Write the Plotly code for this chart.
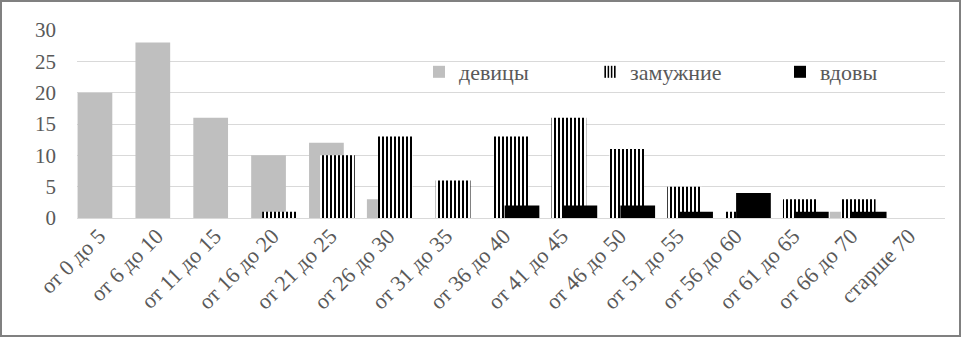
import plotly.graph_objects as go

categories = ["от 0 до 5", "от 6 до 10", "от 11 до 15", "от 16 до 20", "от 21 до 25",
              "от 26 до 30", "от 31 до 35", "от 36 до 40", "от 41 до 45", "от 46 до 50",
              "от 51 до 55", "от 56 до 60", "от 61 до 65", "от 66 до 70", "старше 70"]
devitsy = [20, 28, 16, 10, 12, 3, 0, 0, 0, 0, 0, 0, 0, 1, 0]
zamuzhnie = [0, 0, 0, 1, 10, 13, 6, 13, 16, 11, 5, 1, 3, 3, 0]
vdovy = [0, 0, 0, 0, 0, 0, 0, 2, 2, 2, 1, 4, 1, 1, 0]
y_ticks = [0, 5, 10, 15, 20, 25, 30]

W, H = 962, 338
ML, MR, MT, MB = 77, 17, 30, 120
PW, PH = W - ML - MR, H - MT - MB

FONT = "Liberation Serif"
TXT = "#595959"
BW = 0.6

fig = go.Figure()
fig.add_trace(go.Bar(
    x=categories, y=devitsy, name="девицы", width=BW, offset=-0.49,
    marker=dict(color="#bfbfbf", line=dict(width=0)), legend="legend"))
fig.add_trace(go.Bar(
    x=categories, y=zamuzhnie, name="замужние", width=BW, offset=-0.30,
    marker=dict(color="white", line=dict(width=0),
                pattern=dict(shape="|", fgcolor="black", bgcolor="white",
                             size=4, solidity=0.5, fillmode="replace")),
    legend="legend2"))
fig.add_trace(go.Bar(
    x=categories, y=vdovy, name="вдовы", width=BW, offset=-0.11,
    marker=dict(color="black", line=dict(width=0)), legend="legend3"))

def px2x(p):
    return (p - ML) / PW

leg_common = dict(orientation="h", yanchor="middle", xanchor="left",
                  font=dict(family=FONT, size=22, color=TXT),
                  bgcolor="rgba(0,0,0,0)", borderwidth=0)
ly = (MT + PH - 72) / PH

fig.update_layout(
    width=W, height=H,
    margin=dict(l=ML, r=MR, t=MT, b=MB),
    font=dict(family=FONT, size=21, color=TXT),
    paper_bgcolor="white", plot_bgcolor="white",
    barmode="overlay",
    showlegend=True,
    legend=dict(x=px2x(419), y=ly, **leg_common),
    legend2=dict(x=px2x(590), y=ly, **leg_common),
    legend3=dict(x=px2x(780), y=ly, **leg_common),
    xaxis=dict(type="category", range=[-0.5, len(categories) - 0.5],
               tickangle=-45, showgrid=False, showline=False, ticks="",
               ticklabelshift=-7,
               tickfont=dict(family=FONT, size=22, color=TXT)),
    yaxis=dict(range=[0, 30], tickvals=y_ticks, showgrid=True, gridcolor="#d9d9d9",
               gridwidth=1, zeroline=True, zerolinecolor="#d9d9d9", zerolinewidth=1,
               showline=False, ticks="", ticklabelstandoff=20,
               tickfont=dict(family=FONT, size=21, color=TXT)),
    shapes=[dict(type="rect", xref="paper", yref="paper",
                 x0=(1 - ML) / PW, x1=(W - 2 - ML) / PW,
                 y0=-(H - 2 - MT - PH) / PH, y1=1 + (MT - 1) / PH,
                 line=dict(color="#808080", width=2), layer="above")],
)

fig.write_html("out.html")
